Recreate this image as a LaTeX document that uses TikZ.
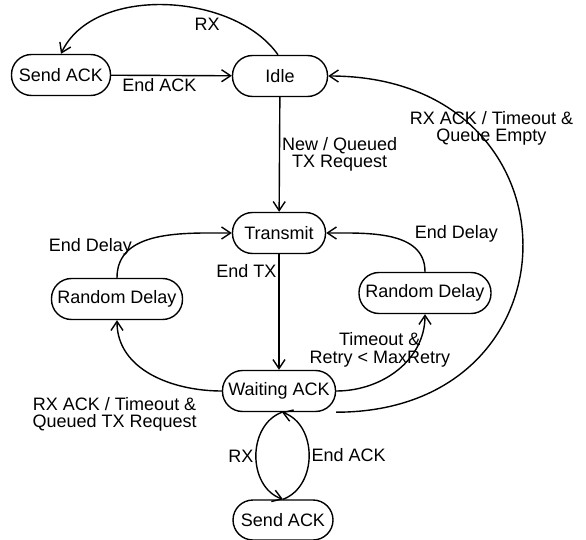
\documentclass[tikz,border=0pt]{standalone}
\usepackage{fontspec}
\setmainfont{Liberation Sans}
\usetikzlibrary{arrows.meta}

\begin{document}
\begin{tikzpicture}[x=1pt,y=1pt,font=\fontsize{18}{17.5}\selectfont,
>={Straight Barb[length=9pt,width=12pt]}]
\tikzstyle{state} = [rectangle, draw, line width=1.4pt, rounded corners=20pt,
minimum height=41pt, inner sep=1pt]
\tikzstyle{line} = [draw, line width=1.4pt, ->]
\tikzstyle{cond} = [align=center, inner sep=2pt]

\useasboundingbox (0,0) rectangle (586,-540);
% upper states
\node [state, minimum width=99pt] (sendtop) at (61,-75) {Send ACK};
\node [state, minimum width=95pt] (idle) at (280,-76) {Idle};
\node [state, minimum width=93pt] (transmit) at (279,-233) {Transmit};
% delays
\node [state, minimum width=131pt] (delayleft) at (117,-299) {Random Delay};
\node [state, minimum width=132pt] (delayright) at (425,-293) {Random Delay};
% lower states
\node [state, minimum width=113pt] (waiting) at (279,-391) {Waiting ACK};
\node [state, minimum width=100pt, minimum height=40pt] (sendbot) at (283,-520) {Send ACK};

\tikzstyle{every path}=[line]
\path ([xshift=-2pt]idle.north) to[out=125,in=65,looseness=0.9] node[cond,pos=0.33,below left,xshift=12pt,yshift=-4pt] {RX} (sendtop.north);
\path (sendtop) -- node[cond,pos=0.4,below] {End ACK} (idle);
\path (idle) -- node[cond,right] {New / Queued\\TX Request} (transmit);
\path (waiting.south east) .. controls +(250,0) and +(258,0) .. node[cond,pos=0.75,xshift=18pt] {RX ACK / Timeout \&\\Queue Empty} (idle.east);
\path (transmit) -- node[cond,pos=0.15,left] {End TX} (waiting);
\path (waiting.west) to[out=180,in=-90] node[cond,pos=0.15,below left,yshift=-5pt] {RX ACK / Timeout \&\\Queued TX Request} (delayleft.south);
\path (delayleft.north) to[out=90,in=180] node[cond,pos=0.3,left,xshift=2pt] {End Delay} (transmit.west);
\path (waiting.east) to[out=0,in=-90] node[cond,pos=0.5,above,xshift=-18pt] {Timeout \&\\Retry < MaxRetry} (delayright.south);
\path (delayright.north) to[out=90,in=0] node[cond,pos=0.4,above right,xshift=10pt,yshift=-5pt] {End Delay} (transmit.east);
\path ([xshift=3pt]waiting.south) to[bend right=70,looseness=1.1] node[cond,left] {RX} (sendbot.north);
\path (sendbot.north) to[bend right=70,looseness=1.1] node[cond,right] {End ACK} ([xshift=3pt]waiting.south);

\end{tikzpicture}
\end{document}
